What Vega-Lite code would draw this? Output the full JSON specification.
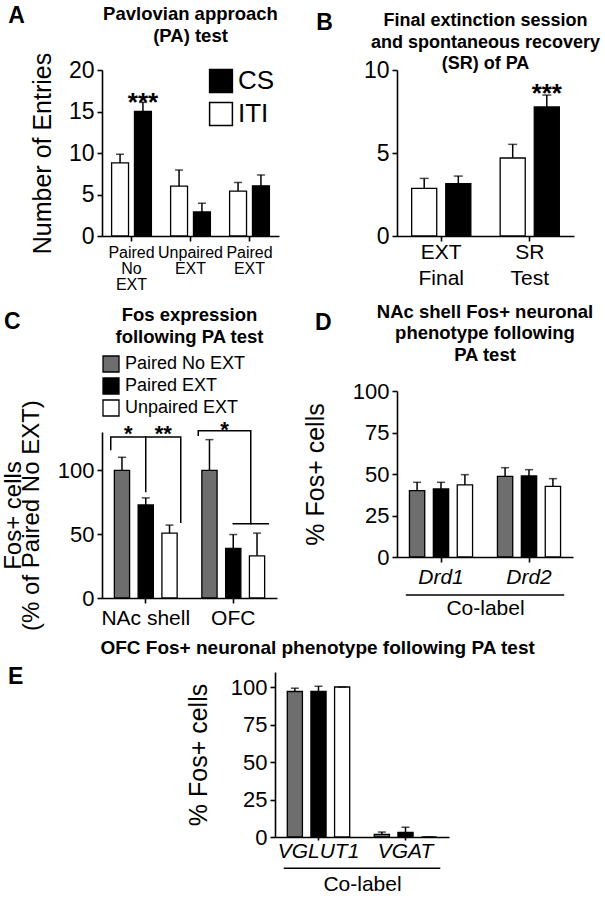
{
  "$schema": "https://vega.github.io/schema/vega-lite/v6.json",
  "background": "white",
  "padding": {"left": 1, "top": 5, "right": 5, "bottom": 5},
  "config": {
    "font": "Liberation Sans",
    "view": {"stroke": null},
    "axis": {"grid": false, "domainColor": "black", "domainWidth": 1.6, "tickColor": "black", "tickWidth": 1.6, "tickSize": 5, "labelColor": "black", "titleColor": "black", "titleFontWeight": "normal", "labelFontSize": 22, "titleFontSize": 25, "labelPadding": 3},
    "axisX": {"labelAngle": 0, "labelFontSize": 21},
    "title": {"fontSize": 18.5, "fontWeight": "bold", "color": "black", "lineHeight": 21.5},
    "legend": {"labelColor": "black"}
  },
  "datasets": {
    "A": [
      {"group": "Paired No EXT", "stim": "ITI", "mean": 8.8, "upper": 9.85},
      {"group": "Paired No EXT", "stim": "CS", "mean": 15.0, "upper": 16.1},
      {"group": "Unpaired EXT", "stim": "ITI", "mean": 6.0, "upper": 7.95},
      {"group": "Unpaired EXT", "stim": "CS", "mean": 2.9, "upper": 3.95},
      {"group": "Paired EXT", "stim": "ITI", "mean": 5.4, "upper": 6.45},
      {"group": "Paired EXT", "stim": "CS", "mean": 6.05, "upper": 7.35}
    ],
    "A_sig": [{"group": "Paired No EXT", "stim": "CS", "y": 15.1, "label": "***"}],
    "B": [
      {"group": "EXT Final", "stim": "ITI", "mean": 2.87, "upper": 3.47},
      {"group": "EXT Final", "stim": "CS", "mean": 3.15, "upper": 3.61},
      {"group": "SR Test", "stim": "ITI", "mean": 4.7, "upper": 5.52},
      {"group": "SR Test", "stim": "CS", "mean": 7.77, "upper": 8.49}
    ],
    "B_sig": [{"group": "SR Test", "stim": "CS", "y": 8.07, "label": "***"}],
    "C": [
      {"group": "NAc shell", "cond": "Paired No EXT", "mean": 100, "upper": 110.2},
      {"group": "NAc shell", "cond": "Paired EXT", "mean": 72.9, "upper": 78.4},
      {"group": "NAc shell", "cond": "Unpaired EXT", "mean": 50.8, "upper": 57.1},
      {"group": "OFC", "cond": "Paired No EXT", "mean": 100, "upper": 124},
      {"group": "OFC", "cond": "Paired EXT", "mean": 38.8, "upper": 49.7},
      {"group": "OFC", "cond": "Unpaired EXT", "mean": 33, "upper": 50.8}
    ],
    "C_brackets": [
      {"group": "NAc shell", "pos": "1", "y": 116.3, "seg": "n1", "k": 1},
      {"group": "NAc shell", "pos": "1", "y": 126, "seg": "n1", "k": 2},
      {"group": "NAc shell", "pos": "3", "y": 126, "seg": "n1", "k": 3},
      {"group": "NAc shell", "pos": "3", "y": 59.4, "seg": "n1", "k": 4},
      {"group": "NAc shell", "pos": "2", "y": 126, "seg": "n2", "k": 1},
      {"group": "NAc shell", "pos": "2", "y": 83.5, "seg": "n2", "k": 2},
      {"group": "OFC", "pos": "1", "y": 127.5, "seg": "o1", "k": 1},
      {"group": "OFC", "pos": "1", "y": 131, "seg": "o1", "k": 2},
      {"group": "OFC", "pos": "2.5", "y": 131, "seg": "o1", "k": 3},
      {"group": "OFC", "pos": "2.5", "y": 58.1, "seg": "o1", "k": 4},
      {"group": "OFC", "pos": "2", "y": 58.1, "seg": "o2", "k": 1},
      {"group": "OFC", "pos": "3", "y": 58.1, "seg": "o2", "k": 2}
    ],
    "C_sig": [
      {"group": "NAc shell", "pos": "1.5", "y": 123.2, "label": "*"},
      {"group": "NAc shell", "pos": "2.5", "y": 123.2, "label": "**"},
      {"group": "OFC", "pos": "1.75", "y": 126.3, "label": "*"}
    ],
    "D": [
      {"group": "Drd1", "cond": "Paired No EXT", "mean": 40.0, "upper": 45.0},
      {"group": "Drd1", "cond": "Paired EXT", "mean": 41.0, "upper": 45.0},
      {"group": "Drd1", "cond": "Unpaired EXT", "mean": 43.4, "upper": 49.6},
      {"group": "Drd2", "cond": "Paired No EXT", "mean": 48.6, "upper": 53.8},
      {"group": "Drd2", "cond": "Paired EXT", "mean": 48.8, "upper": 52.6},
      {"group": "Drd2", "cond": "Unpaired EXT", "mean": 42.6, "upper": 47.2}
    ],
    "D_line": [
      {"group": "Drd1", "pos": "1", "y": -22.9, "k": 1},
      {"group": "Drd2", "pos": "3", "y": -22.9, "k": 2}
    ],
    "E": [
      {"group": "VGLUT1", "cond": "Paired No EXT", "mean": 97, "upper": 99.2},
      {"group": "VGLUT1", "cond": "Paired EXT", "mean": 97, "upper": 100.5},
      {"group": "VGLUT1", "cond": "Unpaired EXT", "mean": 100, "upper": 100},
      {"group": "VGAT", "cond": "Paired No EXT", "mean": 1.8, "upper": 3.3},
      {"group": "VGAT", "cond": "Paired EXT", "mean": 3.0, "upper": 6.5},
      {"group": "VGAT", "cond": "Unpaired EXT", "mean": 0, "upper": 0}
    ],
    "E_line": [
      {"group": "VGLUT1", "pos": "1", "y": -20.9, "k": 1},
      {"group": "VGAT", "pos": "3", "y": -20.9, "k": 2}
    ]
  },
  "resolve": {"scale": {"fill": "independent", "xOffset": "independent"}, "legend": {"fill": "independent"}},
  "spacing": 5,
  "vconcat": [
    {
      "resolve": {"scale": {"fill": "independent", "xOffset": "independent"}, "legend": {"fill": "independent"}},
      "spacing": 24,
      "hconcat": [
        {
          "resolve": {"scale": {"fill": "independent", "xOffset": "independent"}, "legend": {"fill": "independent"}},
          "spacing": 14,
          "vconcat": [
            {
              "title": {"text": "A", "orient": "left", "anchor": "end", "angle": 0, "align": "right", "baseline": "top", "fontSize": 23, "fontWeight": "bold", "offset": -11, "frame": "bounds", "dy": 0},
              "resolve": {"scale": {"fill": "independent", "xOffset": "independent"}, "legend": {"fill": "independent"}},
              "vconcat": [
                {
                  "width": 177, "height": 166,
                  "title": {"text": ["Pavlovian approach", "(PA) test"], "frame": "group", "offset": 7},
                  "encoding": {
                    "x": {"field": "group", "type": "nominal", "scale": {"domain": ["Paired No EXT", "Unpaired EXT", "Paired EXT"], "paddingInner": 0, "paddingOuter": 0}, "axis": {"title": null, "labelExpr": "split(datum.label, ' ')", "labelFontSize": 16, "labelLineHeight": 16}},
                    "xOffset": {"field": "stim", "type": "nominal", "scale": {"domain": ["ITI", "CS"], "paddingInner": 0.26, "paddingOuter": 0.42}}
                  },
                  "layer": [
                    {"data": {"name": "A"}, "mark": {"type": "bar", "stroke": "black", "strokeWidth": 1.3},
                     "encoding": {
                       "y": {"field": "mean", "type": "quantitative", "scale": {"domain": [0, 20]}, "axis": {"title": "Number of Entries", "values": [0, 5, 10, 15, 20], "labelFontSize": 23, "titlePadding": 13}},
                       "fill": {"field": "stim", "type": "nominal", "scale": {"domain": ["ITI", "CS"], "range": ["white", "black"]},
                                "legend": {"orient": "none", "legendX": 106, "legendY": -2, "values": ["CS", "ITI"], "title": null, "symbolType": "square", "symbolSize": 520, "labelFontSize": 26, "symbolStrokeColor": "black", "symbolStrokeWidth": 1.5, "symbolOpacity": 1, "rowPadding": 3, "labelOffset": 4, "padding": 0}}
                     }},
                    {"data": {"name": "A"}, "mark": {"type": "rule", "color": "black", "strokeWidth": 1.5}, "encoding": {"y": {"field": "mean", "type": "quantitative"}, "y2": {"field": "upper"}}},
                    {"data": {"name": "A"}, "mark": {"type": "tick", "color": "black", "thickness": 1.5, "size": 8}, "encoding": {"y": {"field": "upper", "type": "quantitative"}}},
                    {"data": {"name": "A_sig"}, "mark": {"type": "text", "fontSize": 26, "fontWeight": "bold", "baseline": "alphabetic", "color": "black"}, "encoding": {"y": {"field": "y", "type": "quantitative"}, "text": {"field": "label"}}}
                  ]
                }
              ]
            },
            {
              "title": {"text": "C", "orient": "left", "anchor": "end", "angle": 0, "align": "right", "baseline": "top", "fontSize": 23, "fontWeight": "bold", "offset": -36, "frame": "bounds", "dy": 5},
              "resolve": {"scale": {"fill": "independent", "xOffset": "independent"}, "legend": {"fill": "independent"}},
              "vconcat": [
                {
                  "width": 175, "height": 166,
                  "title": {"text": ["Fos expression", "following PA test"], "frame": "group", "offset": 9},
                  "resolve": {"scale": {"xOffset": "independent"}},
                  "encoding": {
                    "x": {"field": "group", "type": "nominal", "scale": {"domain": ["NAc shell", "OFC"], "paddingInner": 0, "paddingOuter": 0}, "axis": {"title": null, "labelPadding": 4}}
                  },
                  "layer": [
                    {"data": {"name": "C"}, "mark": {"type": "bar", "stroke": "black", "strokeWidth": 1.3},
                     "encoding": {
                       "xOffset": {"field": "cond", "type": "nominal", "scale": {"domain": ["Paired No EXT", "Paired EXT", "Unpaired EXT"], "paddingInner": 0.36, "paddingOuter": 0.52}},
                       "y": {"field": "mean", "type": "quantitative", "scale": {"domain": [0, 130]}, "axis": {"title": ["Fos+ cells", "(% of Paired No  EXT)"], "values": [0, 50, 100], "titlePadding": 14, "titleFontSize": 24, "titleLineHeight": 18}},
                       "fill": {"field": "cond", "type": "nominal", "scale": {"domain": ["Paired No EXT", "Paired EXT", "Unpaired EXT"], "range": ["#6e6e6e", "black", "white"]},
                                "legend": {"orient": "top", "direction": "vertical", "title": null, "symbolType": "square", "symbolSize": 256, "labelFontSize": 18, "symbolStrokeColor": "black", "symbolStrokeWidth": 1.3, "symbolOpacity": 1, "offset": 8, "rowPadding": 0, "labelOffset": 5, "padding": 0}}
                     }},
                    {"data": {"name": "C"}, "mark": {"type": "rule", "color": "black", "strokeWidth": 1.5},
                     "encoding": {"xOffset": {"field": "cond", "type": "nominal", "scale": {"domain": ["Paired No EXT", "Paired EXT", "Unpaired EXT"], "paddingInner": 0.36, "paddingOuter": 0.52}}, "y": {"field": "mean", "type": "quantitative"}, "y2": {"field": "upper"}}},
                    {"data": {"name": "C"}, "mark": {"type": "tick", "color": "black", "thickness": 1.5, "size": 8},
                     "encoding": {"xOffset": {"field": "cond", "type": "nominal", "scale": {"domain": ["Paired No EXT", "Paired EXT", "Unpaired EXT"], "paddingInner": 0.36, "paddingOuter": 0.52}}, "y": {"field": "upper", "type": "quantitative"}}},
                    {"data": {"name": "C_brackets"}, "mark": {"type": "line", "color": "black", "strokeWidth": 1.5, "strokeCap": "square"},
                     "encoding": {"xOffset": {"field": "pos", "type": "nominal", "scale": {"type": "point", "domain": ["1", "1.25", "1.5", "1.75", "2", "2.25", "2.5", "2.75", "3"], "padding": 3.36}}, "y": {"field": "y", "type": "quantitative"}, "detail": {"field": "seg"}, "order": {"field": "k"}}},
                    {"data": {"name": "C_sig"}, "mark": {"type": "text", "fontSize": 22, "fontWeight": "bold", "baseline": "alphabetic", "color": "black"},
                     "encoding": {"xOffset": {"field": "pos", "type": "nominal", "scale": {"type": "point", "domain": ["1", "1.25", "1.5", "1.75", "2", "2.25", "2.5", "2.75", "3"], "padding": 3.36}}, "y": {"field": "y", "type": "quantitative"}, "text": {"field": "label"}}}
                  ]
                }
              ]
            }
          ]
        },
        {
          "resolve": {"scale": {"fill": "independent", "xOffset": "independent"}, "legend": {"fill": "independent"}},
          "spacing": 14,
          "vconcat": [
            {
              "title": {"text": "B", "orient": "left", "anchor": "end", "angle": 0, "align": "right", "baseline": "top", "fontSize": 23, "fontWeight": "bold", "offset": 14, "frame": "bounds", "dy": 0},
              "resolve": {"scale": {"fill": "independent", "xOffset": "independent"}, "legend": {"fill": "independent"}},
              "vconcat": [
                {
                  "width": 177, "height": 166,
                  "title": {"text": ["Final extinction session", "and spontaneous recovery", "(SR) of PA"], "frame": "group", "offset": -14, "fontSize": 18},
                  "encoding": {
                    "x": {"field": "group", "type": "nominal", "scale": {"domain": ["EXT Final", "SR Test"], "paddingInner": 0, "paddingOuter": 0}, "axis": {"title": null, "labelExpr": "split(datum.label, ' ')", "labelFontSize": 21, "labelLineHeight": 26, "labelPadding": 0}},
                    "xOffset": {"field": "stim", "type": "nominal", "scale": {"domain": ["ITI", "CS"], "paddingInner": 0.265, "paddingOuter": 0.43}}
                  },
                  "layer": [
                    {"data": {"name": "B"}, "mark": {"type": "bar", "stroke": "black", "strokeWidth": 1.3},
                     "encoding": {
                       "y": {"field": "mean", "type": "quantitative", "scale": {"domain": [0, 10]}, "axis": {"title": null, "values": [0, 5, 10], "labelFontSize": 23}},
                       "fill": {"field": "stim", "type": "nominal", "scale": {"domain": ["ITI", "CS"], "range": ["white", "black"]}, "legend": null}
                     }},
                    {"data": {"name": "B"}, "mark": {"type": "rule", "color": "black", "strokeWidth": 1.5}, "encoding": {"y": {"field": "mean", "type": "quantitative"}, "y2": {"field": "upper"}}},
                    {"data": {"name": "B"}, "mark": {"type": "tick", "color": "black", "thickness": 1.5, "size": 9}, "encoding": {"y": {"field": "upper", "type": "quantitative"}}},
                    {"data": {"name": "B_sig"}, "mark": {"type": "text", "fontSize": 26, "fontWeight": "bold", "baseline": "alphabetic", "color": "black"}, "encoding": {"y": {"field": "y", "type": "quantitative"}, "text": {"field": "label"}}}
                  ]
                }
              ]
            },
            {
              "title": {"text": "D", "orient": "left", "anchor": "end", "angle": 0, "align": "right", "baseline": "top", "fontSize": 23, "fontWeight": "bold", "offset": -45, "frame": "bounds", "dy": 9},
              "resolve": {"scale": {"fill": "independent", "xOffset": "independent"}, "legend": {"fill": "independent"}},
              "vconcat": [
                {
                  "width": 176, "height": 166,
                  "title": {"text": ["NAc shell Fos+ neuronal", "phenotype following", "PA test"], "frame": "group", "offset": 16},
                  "resolve": {"scale": {"xOffset": "independent"}},
                  "encoding": {
                    "x": {"field": "group", "type": "nominal", "scale": {"domain": ["Drd1", "Drd2"], "paddingInner": 0, "paddingOuter": 0}, "axis": {"title": "Co-label", "titleFontSize": 21, "titlePadding": 10, "labelFontStyle": "italic", "labelPadding": 4}}
                  },
                  "layer": [
                    {"data": {"name": "D"}, "mark": {"type": "bar", "stroke": "black", "strokeWidth": 1.3},
                     "encoding": {
                       "xOffset": {"field": "cond", "type": "nominal", "scale": {"domain": ["Paired No EXT", "Paired EXT", "Unpaired EXT"], "paddingInner": 0.36, "paddingOuter": 0.52}},
                       "y": {"field": "mean", "type": "quantitative", "scale": {"domain": [0, 100]}, "axis": {"title": "% Fos+ cells", "values": [0, 25, 50, 75, 100], "titlePadding": 24}},
                       "fill": {"field": "cond", "type": "nominal", "scale": {"domain": ["Paired No EXT", "Paired EXT", "Unpaired EXT"], "range": ["#6e6e6e", "black", "white"]}, "legend": null}
                     }},
                    {"data": {"name": "D"}, "mark": {"type": "rule", "color": "black", "strokeWidth": 1.5},
                     "encoding": {"xOffset": {"field": "cond", "type": "nominal", "scale": {"domain": ["Paired No EXT", "Paired EXT", "Unpaired EXT"], "paddingInner": 0.36, "paddingOuter": 0.52}}, "y": {"field": "mean", "type": "quantitative"}, "y2": {"field": "upper"}}},
                    {"data": {"name": "D"}, "mark": {"type": "tick", "color": "black", "thickness": 1.5, "size": 8},
                     "encoding": {"xOffset": {"field": "cond", "type": "nominal", "scale": {"domain": ["Paired No EXT", "Paired EXT", "Unpaired EXT"], "paddingInner": 0.36, "paddingOuter": 0.52}}, "y": {"field": "upper", "type": "quantitative"}}},
                    {"data": {"name": "D_line"}, "mark": {"type": "line", "color": "black", "strokeWidth": 1.5},
                     "encoding": {"xOffset": {"field": "pos", "type": "nominal", "scale": {"type": "point", "domain": ["1", "1.25", "1.5", "1.75", "2", "2.25", "2.5", "2.75", "3"], "padding": 3.36}}, "y": {"field": "y", "type": "quantitative"}, "order": {"field": "k"}}}
                  ]
                }
              ]
            }
          ]
        }
      ]
    },
    {
      "resolve": {"scale": {"fill": "independent", "xOffset": "independent"}, "legend": {"fill": "independent"}},
      "spacing": -6,
      "hconcat": [
        {
          "width": 1, "height": 1,
          "data": {"values": [{}]},
          "mark": {"type": "point", "opacity": 0},
          "encoding": {},
          "title": {"text": "E", "orient": "left", "anchor": "end", "angle": 0, "align": "right", "baseline": "top", "fontSize": 23, "fontWeight": "bold", "offset": 61, "frame": "bounds", "dy": -4}
        },
        {
          "width": 174, "height": 165,
          "title": {"text": "OFC Fos+ neuronal phenotype following PA test", "frame": "bounds", "offset": 14, "fontSize": 19},
          "resolve": {"scale": {"xOffset": "independent"}},
          "encoding": {
            "x": {"field": "group", "type": "nominal", "scale": {"domain": ["VGLUT1", "VGAT"], "paddingInner": 0, "paddingOuter": 0}, "axis": {"title": "Co-label", "titleFontSize": 21, "titlePadding": 12, "labelFontStyle": "italic", "labelPadding": 0, "tickSize": 3}}
          },
          "layer": [
            {"data": {"name": "E"}, "mark": {"type": "bar", "stroke": "black", "strokeWidth": 1.3},
             "encoding": {
               "xOffset": {"field": "cond", "type": "nominal", "scale": {"domain": ["Paired No EXT", "Paired EXT", "Unpaired EXT"], "paddingInner": 0.36, "paddingOuter": 0.52}},
               "y": {"field": "mean", "type": "quantitative", "scale": {"domain": [0, 110]}, "axis": {"title": "% Fos+ cells", "values": [0, 25, 50, 75, 100], "titlePadding": 19}},
               "fill": {"field": "cond", "type": "nominal", "scale": {"domain": ["Paired No EXT", "Paired EXT", "Unpaired EXT"], "range": ["#6e6e6e", "black", "white"]}, "legend": null}
             }},
            {"data": {"name": "E"}, "mark": {"type": "rule", "color": "black", "strokeWidth": 1.5},
             "encoding": {"xOffset": {"field": "cond", "type": "nominal", "scale": {"domain": ["Paired No EXT", "Paired EXT", "Unpaired EXT"], "paddingInner": 0.36, "paddingOuter": 0.52}}, "y": {"field": "mean", "type": "quantitative"}, "y2": {"field": "upper"}}},
            {"data": {"name": "E"}, "mark": {"type": "tick", "color": "black", "thickness": 1.5, "size": 8},
             "encoding": {"xOffset": {"field": "cond", "type": "nominal", "scale": {"domain": ["Paired No EXT", "Paired EXT", "Unpaired EXT"], "paddingInner": 0.36, "paddingOuter": 0.52}}, "y": {"field": "upper", "type": "quantitative"}}},
            {"data": {"name": "E_line"}, "mark": {"type": "line", "color": "black", "strokeWidth": 1.5},
             "encoding": {"xOffset": {"field": "pos", "type": "nominal", "scale": {"type": "point", "domain": ["1", "1.25", "1.5", "1.75", "2", "2.25", "2.5", "2.75", "3"], "padding": 3.36}}, "y": {"field": "y", "type": "quantitative"}, "order": {"field": "k"}}}
          ]
        }
      ]
    }
  ]
}
